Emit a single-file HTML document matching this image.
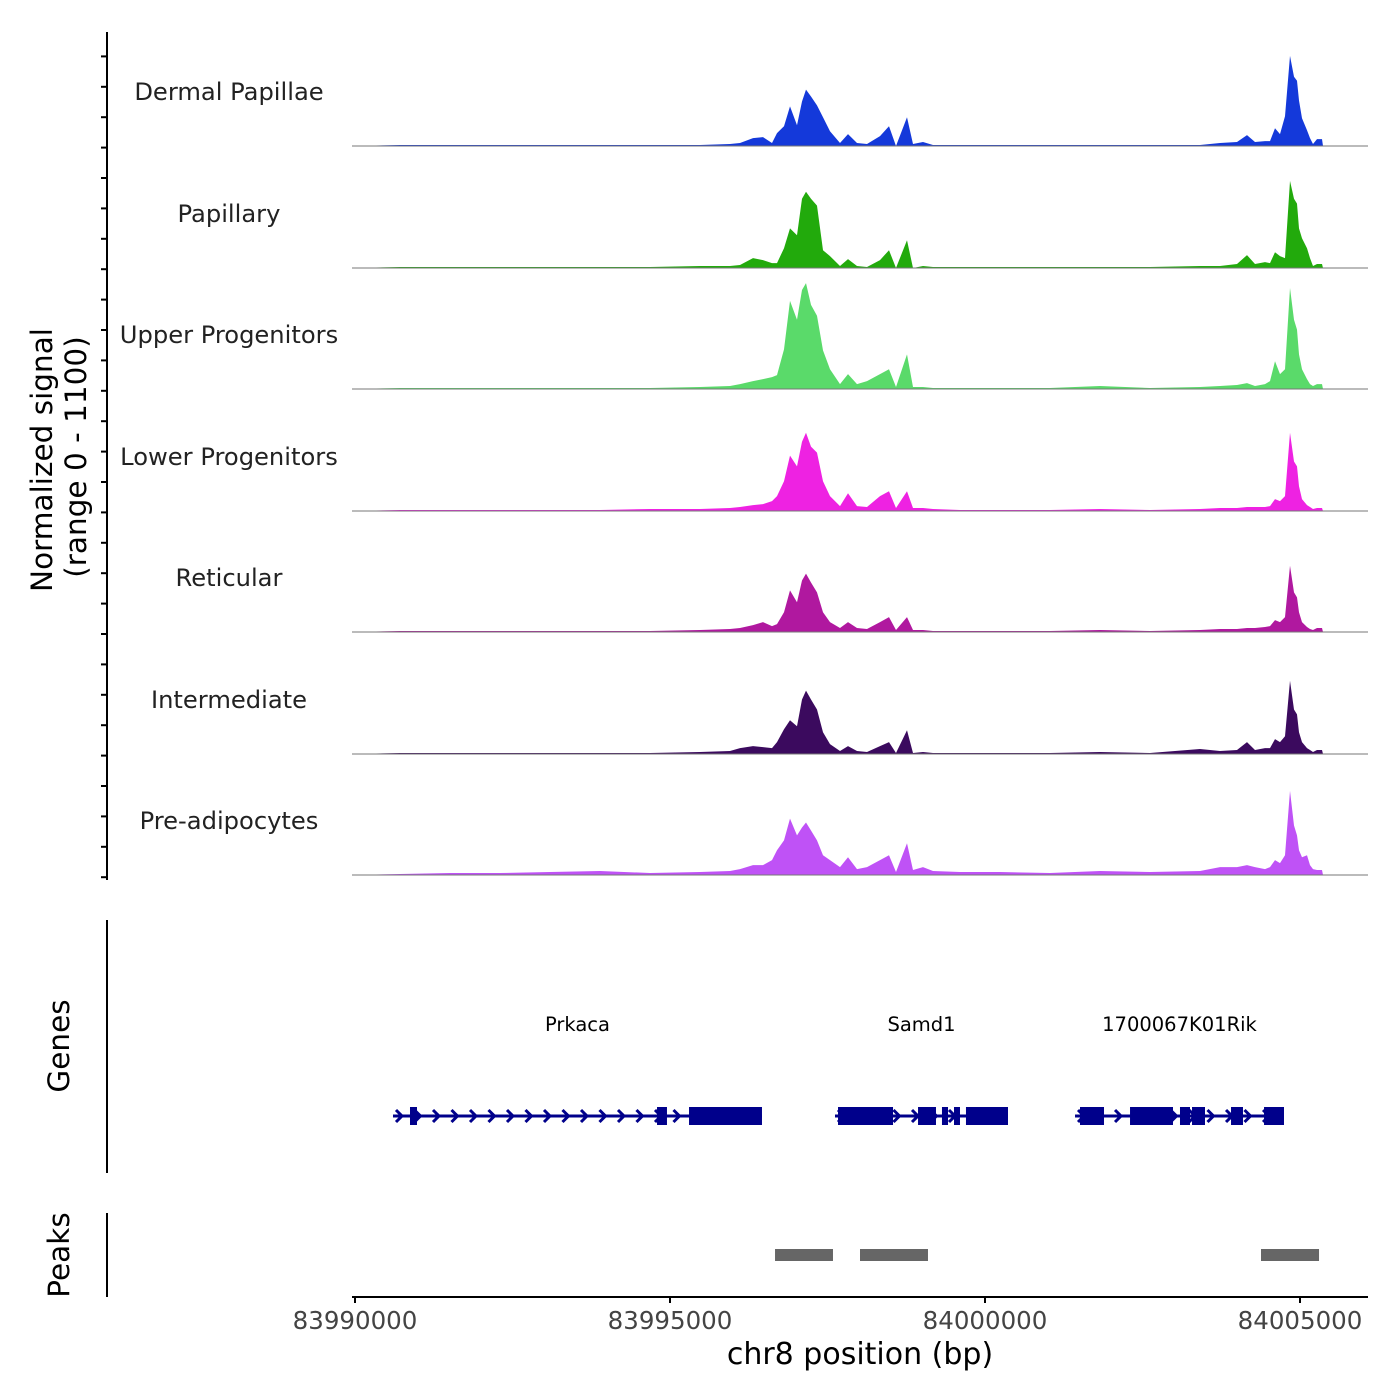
<!DOCTYPE html>
<html><head><meta charset="utf-8"><style>
html,body{margin:0;padding:0;background:#fff;}
svg{display:block;font-family:"DejaVu Sans","Liberation Sans",sans-serif;}
</style></head><body>
<svg id="chart" width="1400" height="1400" viewBox="0 0 1400 1400" xmlns="http://www.w3.org/2000/svg"></svg>
<script>
const START = 83990000;
const positions = [-48,714,1508,2302,3095,3889,4683,5476,5952,6111,6317,6476,6619,6698,6810,6905,7016,7095,7159,7238,7333,7429,7540,7698,7825,7968,8127,8333,8476,8587,8762,8857,9016,9175,9603,10238,11032,11825,12619,13413,13730,14000,14159,14286,14444,14524,14603,14683,14762,14841,14905,14952,14984,15032,15111,15159,15206,15270,15349,15365];
const trackNames = ["Dermal Papillae","Papillary","Upper Progenitors","Lower Progenitors","Reticular","Intermediate","Pre-adipocytes"];
const trackColors = ["#1439DA","#22AA0C","#5ADA6A","#EE22E2","#B0189F","#3B0A5E","#BF52F6"];
const sigDP = [0,9,9,9,9,9,9,9,18,27,72,81,27,117,180,360,189,405,513,450,369,261,135,27,108,27,18,90,180,0,261,18,36,9,9,9,9,9,9,9,27,36,99,36,45,45,162,108,270,819,630,594,414,252,144,72,18,63,63,0];
const sigPAP = [0,9,9,9,9,9,9,18,18,27,90,72,45,45,180,360,297,630,693,630,567,162,108,18,81,18,9,72,162,0,252,0,18,9,9,9,9,9,9,18,18,36,117,36,54,45,144,108,90,792,630,585,360,270,180,90,18,36,36,0];
const sigUP = [0,9,9,9,9,9,9,18,27,45,72,90,108,126,360,801,630,900,963,765,666,351,180,45,135,45,72,135,180,18,315,18,18,9,9,9,9,27,9,18,27,36,54,27,45,72,252,135,180,918,630,540,315,180,90,45,27,45,45,0];
const sigLP = [0,9,9,9,9,9,18,18,27,36,54,63,90,135,270,504,405,630,711,585,531,270,135,45,162,45,36,135,180,27,180,27,27,18,9,9,9,18,9,18,27,27,36,36,36,45,108,90,135,711,450,405,225,108,54,36,18,27,27,0];
const sigRT = [0,9,9,9,9,9,9,18,27,36,63,90,54,72,180,378,270,468,531,450,360,180,90,36,90,36,27,90,135,18,135,18,18,9,9,9,9,18,9,18,27,27,36,36,45,54,108,90,135,603,360,315,180,90,45,27,18,36,36,0];
const sigIN = [0,9,9,9,9,9,9,18,27,54,72,63,54,108,225,306,252,495,576,495,405,198,90,27,72,27,18,72,108,9,216,9,18,9,9,9,9,18,9,45,27,36,108,36,54,54,135,108,162,666,405,360,198,108,54,36,18,36,36,0];
const sigPA = [0,9,18,18,27,36,18,27,36,54,90,90,135,225,315,513,360,432,477,405,315,180,135,72,162,54,72,135,180,27,288,45,72,36,27,27,18,36,27,36,72,72,90,72,54,72,135,108,180,765,450,360,225,162,180,90,54,45,45,0];
const signals = [sigDP,sigPAP,sigUP,sigLP,sigRT,sigIN,sigPA];
const xTicks = [83990000,83995000,84000000,84005000];
const peakStarts = [6667,8016,14381];
const peakEnds = [7587,9095,15302];
const geneNames = ["Prkaca","Samd1","1700067K01Rik"];
const geneStarts = [603,7619,11429];
const geneEnds = [6460,10365,14746];
const geneExons = [
  [[873,984],[4794,4952],[5302,6460]],
  [[7667,8540],[8937,9222],[9317,9413],[9508,9603],[9698,10365]],
  [[11508,11889],[12302,12984],[13095,13254],[13286,13492],[13905,14095],[14429,14746]]
];

const NS="http://www.w3.org/2000/svg";
const svg=document.getElementById('chart');
function el(tag,attrs,parent){const e=document.createElementNS(NS,tag);for(const k in attrs)e.setAttribute(k,attrs[k]);(parent||svg).appendChild(e);return e;}
function xs(offset){return 355+offset*0.063;}
const baselines=[146,268,389,511,632,754,875];
const trackH=121;
function ys(v,b){return b-v/1100*trackH;}

for(let t=0;t<7;t++){
  const g=el('g',{});
  
  
  const b=baselines[t];
  let d='M'+xs(positions[0])+','+b;
  const n=Math.min(positions.length,signals[t].length);
  for(let i=0;i<n;i++)d+=' L'+xs(positions[i]).toFixed(1)+','+ys(signals[t][i],b).toFixed(1);
  d+=' L'+xs(positions[n-1])+','+b+' Z';
  const p=el('path',{d:d,fill:trackColors[t]},g);
  
  
  const bl=el('line',{x1:352,x2:1368,y1:b,y2:b,stroke:'#777','stroke-width':1},g);
  
  
  const lb=el('text',{x:229,y:b-46,'text-anchor':'middle','font-size':24.2,fill:'#222'},g);
  lb.textContent=trackNames[t];
  
  
}
const ya=el('line',{x1:107,x2:107,y1:32,y2:880,stroke:'#000','stroke-width':2});


for(let i=0;i<29;i++){
  const y=26+i*30.4;
  if(y<30||y>880)continue;
  const tk=el('line',{x1:101,x2:107,y1:y,y2:y,stroke:'#000','stroke-width':2});
  
  
}
const yt=el('text',{transform:'translate(52,460) rotate(-90)','text-anchor':'middle','font-size':29.5,fill:'#000'});
yt.textContent='Normalized signal';


const yt2=el('text',{transform:'translate(86,457) rotate(-90)','text-anchor':'middle','font-size':29.5,fill:'#000'});
yt2.textContent='(range 0 - 1100)';



const ga=el('line',{x1:107,x2:107,y1:920,y2:1173,stroke:'#000','stroke-width':2});


const gt=el('text',{transform:'translate(69,1046) rotate(-90)','text-anchor':'middle','font-size':29.5,fill:'#000'});
gt.textContent='Genes';


const gy=1116;
for(let g=0;g<geneNames.length;g++){
  const grp=el('g',{});
  
  
  const x1=xs(geneStarts[g]),x2=xs(geneEnds[g]);
  el('line',{x1:x1,x2:x2,y1:gy,y2:gy,stroke:'#00008B','stroke-width':3},grp);
  for(let ax=x1+3;ax<x2-5;ax+=18.5){
    el('path',{d:'M'+ax+','+(gy-6)+' L'+(ax+6)+','+gy+' L'+ax+','+(gy+6),fill:'none',stroke:'#00008B','stroke-width':3},grp);
  }
  for(const ex of geneExons[g]){
    el('rect',{x:xs(ex[0]),y:gy-9,width:xs(ex[1])-xs(ex[0]),height:18,fill:'#00008B'},grp);
  }
  const tl=el('text',{x:(x1+x2)/2,y:1031,'text-anchor':'middle','font-size':19.5,fill:'#000'},grp);
  tl.textContent=geneNames[g];
  
  
}
const pa=el('line',{x1:107,x2:107,y1:1213,y2:1297,stroke:'#000','stroke-width':2});


const pt=el('text',{transform:'translate(69,1255) rotate(-90)','text-anchor':'middle','font-size':29.5,fill:'#000'});
pt.textContent='Peaks';


for(let i=0;i<peakStarts.length;i++){
  const r=el('rect',{x:xs(peakStarts[i]),y:1249,width:xs(peakEnds[i])-xs(peakStarts[i]),height:12,fill:'#666'});
  
  
}
const xa=el('line',{x1:352,x2:1368,y1:1297,y2:1297,stroke:'#000','stroke-width':2});


for(const t of xTicks){
  const x=xs(t-START);
  const tk=el('line',{x1:x,x2:x,y1:1297,y2:1303,stroke:'#000','stroke-width':2});
  
  
  const tl=el('text',{x:x,y:1329,'text-anchor':'middle','font-size':24.5,fill:'#444'});
  tl.textContent=String(t);
  
  
}
const xt=el('text',{x:860,y:1364,'text-anchor':'middle','font-size':30,fill:'#000'});
xt.textContent='chr8 position (bp)';


</script>
</body></html>
